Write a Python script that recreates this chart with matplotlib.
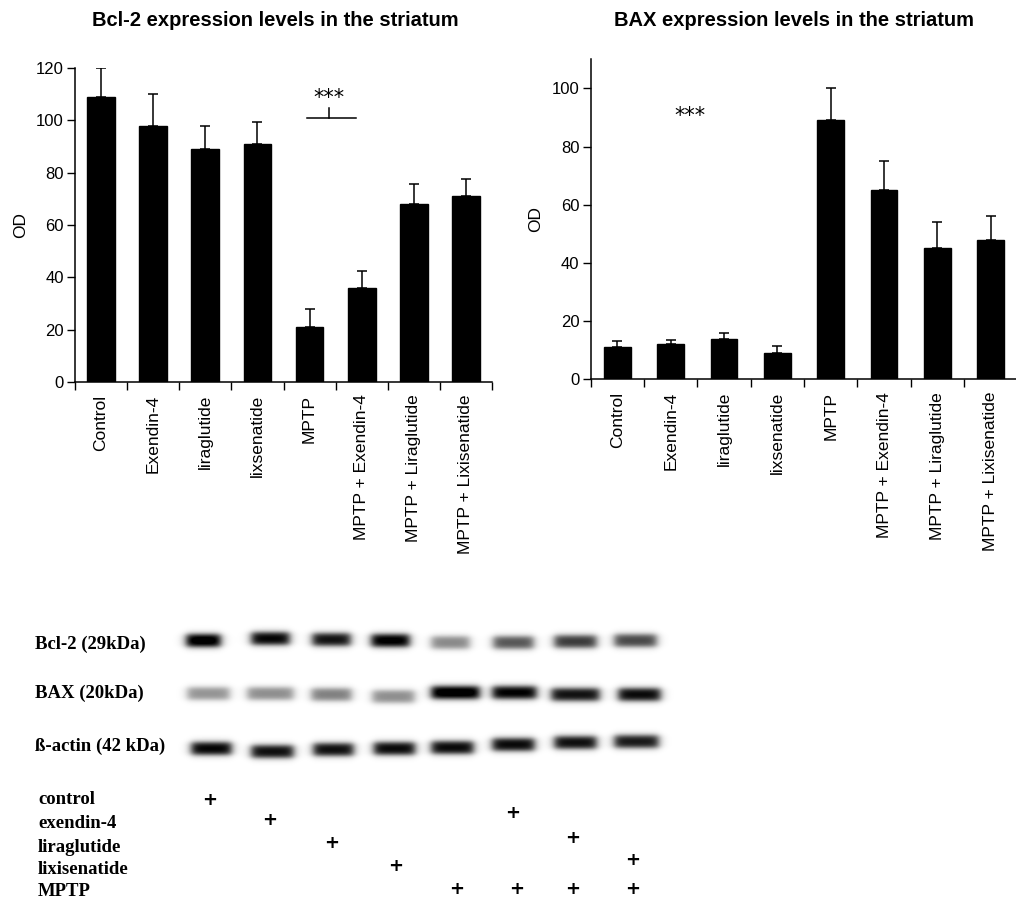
import numpy as np
import matplotlib
matplotlib.use("Agg")
import matplotlib.pyplot as plt

plt.rcParams['font.family'] = ['Liberation Sans', 'DejaVu Sans']

groups = ['Control', 'Exendin-4', 'liraglutide', 'lixsenatide', 'MPTP',
          'MPTP + Exendin-4', 'MPTP + Liraglutide', 'MPTP + Lixisenatide']

# bar chart values
bcl2_mean = [109, 98, 89, 91, 21, 36, 68, 71]
bcl2_err = [11, 12, 9, 8.5, 7, 6.5, 7.5, 6.5]
bax_mean = [11, 12, 14, 9, 89, 65, 45, 48]
bax_err = [2, 1.5, 2, 2.3, 11, 10, 9, 8]

# western blot: lane centres (px), band widths, band rows and darkness
bcl2_x = [203, 270, 331, 390, 450, 513, 575, 635]
bcl2_y = [640, 638, 639, 640, 642, 642, 641, 640]
bcl2_w = [42, 46, 46, 46, 46, 48, 50, 50]
bcl2_dark = [1.0, 0.9, 0.85, 0.95, 0.42, 0.6, 0.7, 0.65]
bax_x = [208, 270, 331, 393, 455, 514, 575, 639]
bax_y = [693, 693, 694, 696, 692, 692, 694, 694]
bax_w = [50, 54, 48, 50, 56, 52, 56, 50]
bax_dark = [0.38, 0.4, 0.45, 0.4, 1.0, 0.92, 0.85, 0.88]
actin_x = [211, 272, 333, 394, 452, 513, 575, 636]
actin_y = [748, 751, 749, 748, 747, 744, 742, 741]
actin_w = [48, 50, 48, 49, 50, 50, 50, 52]
actin_dark = [0.9, 0.86, 0.86, 0.88, 0.88, 0.88, 0.86, 0.82]

blot_labels = ['Bcl-2 (29kDa)', 'BAX (20kDa)', 'ß-actin (42 kDa)']
blot_label_y = [644, 693, 746]
treat_labels = ['control', 'exendin-4', 'liraglutide', 'lixisenatide', 'MPTP']
treat_label_y = [800, 823, 847, 869, 892]
# plus signs: (x, y) per treatment row
plus_x = [[210], [270, 513], [332, 573], [396, 633], [457, 517, 573, 633]]
plus_y = [[800], [820, 813], [843, 838], [866, 860], [889, 889, 889, 889]]

fig = plt.figure(figsize=(10.16, 9.10), dpi=100)
W, H = 1016, 910


def bar_panel(rect, means, errs, ylim, yticks, width, title, title_x):
    ax = fig.add_axes(rect)
    x = np.arange(len(groups))
    ax.bar(x, means, width=width, color='black', edgecolor='black')
    ax.errorbar(x, means, yerr=[np.zeros(len(errs)), errs], fmt='none',
                ecolor='black', elinewidth=1.1, capsize=3.8, capthick=1.1)
    ax.set_xlim(-0.5, len(groups) - 0.5)
    ax.set_ylim(*ylim)
    ax.set_yticks(yticks)
    ax.set_xticks(x)
    ax.set_xticklabels(groups, rotation=90, fontsize=12.5, va='top')
    ax.tick_params(axis='x', length=0, pad=9)
    ax.set_xticks(np.arange(-0.5, len(groups)), minor=True)
    ax.tick_params(axis='x', which='minor', length=6, width=1, direction='out')
    ax.tick_params(axis='y', length=6, width=1, labelsize=12, pad=2)
    for s in ['top', 'right']:
        ax.spines[s].set_visible(False)
    for s in ['left', 'bottom']:
        ax.spines[s].set_linewidth(1.1)
    ax.spines['bottom'].set_zorder(5)
    ax.set_ylabel('OD', fontsize=12.5, labelpad=6)
    fig.text(title_x / W, 1 - 20 / H, title, fontsize=14.5, fontweight='bold',
             ha='center', va='center')
    return ax


ax1 = bar_panel([75 / W, 1 - 382 / H, 417 / W, 314 / H], bcl2_mean, bcl2_err,
                (0, 120), range(0, 121, 20), 0.53,
                'Bcl-2 expression levels in the striatum', 275)
ax1.plot([3.96, 4.9], [101, 101], color='black', lw=1.1)
ax1.plot([4.37, 4.37], [101, 104.8], color='black', lw=1.1)
ax1.text(4.37, 108.5, '***', ha='center', va='center', fontsize=15,
         family=['DejaVu Sans'])

ax2 = bar_panel([590.7 / W, 1 - 379.3 / H, 426.7 / W, 320 / H], bax_mean, bax_err,
                (0, 110), range(0, 101, 20), 0.5,
                'BAX expression levels in the striatum', 794)
ax2.spines['bottom'].set_clip_on(False)
ax2.text(1.37, 90.5, '***', ha='center', va='center', fontsize=15,
         family=['DejaVu Sans'])

# blot panel in pixel coordinates
axb = fig.add_axes([0, 0, 1, 310 / H])
axb.axis('off')

gx = np.arange(170, 690)
gy = np.arange(615, 775)
XX, YY = np.meshgrid(gx, gy)


def soft_box(v, c, half, s):
    return 0.5 * (np.tanh((v - (c - half)) / s) - np.tanh((v - (c + half)) / s))


dens = np.zeros(XX.shape)
for xs, ys, ws, ds in [(bcl2_x, bcl2_y, bcl2_w, bcl2_dark),
                       (bax_x, bax_y, bax_w, bax_dark),
                       (actin_x, actin_y, actin_w, actin_dark)]:
    for cx, cy, w, d in zip(xs, ys, ws, ds):
        dens += d * soft_box(XX, cx, w / 2 - 4, 5.0) * soft_box(YY, cy, 6.0, 3.2)
img = 1 - np.clip(dens * 1.15, 0, 1)
axb.imshow(img, cmap='gray', vmin=0, vmax=1, extent=(170, 690, 775, 615),
           interpolation='bilinear', aspect='auto')
axb.set_xlim(0, W)
axb.set_ylim(910, 600)

serif = ['Liberation Serif', 'DejaVu Serif']
for lab, y in zip(blot_labels, blot_label_y):
    axb.text(35, y, lab, family=serif, fontweight='bold', fontsize=13.5,
             ha='left', va='center')
for lab, y in zip(treat_labels, treat_label_y):
    axb.text(38, y, lab, family=serif, fontweight='bold', fontsize=13.5,
             ha='left', va='center')
for xs, ys in zip(plus_x, plus_y):
    for px, py in zip(xs, ys):
        axb.text(px, py, '+', family=['DejaVu Sans'], fontweight='bold',
                 fontsize=13, ha='center', va='center')

fig.savefig('out.png', dpi=100)
